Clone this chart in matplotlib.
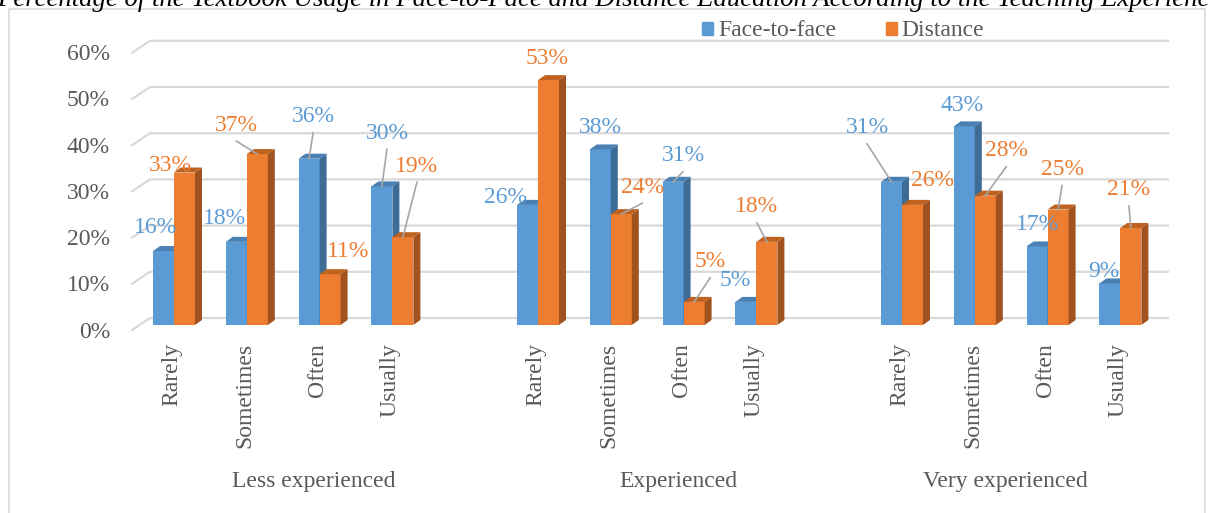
import matplotlib.pyplot as plt
from matplotlib.patches import Rectangle, Polygon, Patch

plt.rcParams['font.family'] = ['Liberation Serif', 'DejaVu Serif']

title = ("Percentage of the Textbook Usage in Face-to-Face and Distance "
         "Education According to the Teaching Experience")
categories = ["Rarely", "Sometimes", "Often", "Usually"]
groups = ["Less experienced", "Experienced", "Very experienced"]
series = ["Face-to-face", "Distance"]
face = [16, 18, 36, 30, 26, 38, 31, 5, 31, 43, 17, 9]
dist = [33, 37, 11, 19, 53, 24, 5, 18, 26, 28, 25, 21]
yticks = [0, 10, 20, 30, 40, 50, 60]

# label placement (pixel offsets from the bar top), and whether a leader line is drawn
face_off = [(-8.5, 24), (-12, 23), (4, 42), (5, 53), (-21.5, 7), (0, 22),
            (10, 26), (-11, 21), (-24.5, 54), (-2, 21), (0, 22), (-6, 12)]
face_lead = [0, 0, 1, 1, 0, 0, 1, 0, 1, 0, 0, 0]
dist_off = [(-14.5, 7.5), (-21, 29), (18, 23), (14, 71), (-1.5, 22), (21, 27),
            (16, 40), (-10, 35), (19.5, 24), (21, 45), (4, 40), (-2, 38)]
dist_lead = [0, 1, 0, 1, 0, 1, 1, 1, 0, 1, 1, 1]

W, H = 1209, 513
SX, SY = 72.8, 4.62     # px per category step / per percent
X0, Y0 = 174, 325       # px of first category / of 0%

def dx(p): return p / SX
def dy(p): return p / SY
def xpx(p): return (p - X0) / SX
def ypx(p): return (Y0 - p) / SY

blue, blue_side, blue_top = '#5B9BD5', '#3D6C97', '#4A80B3'
orng, orng_side, orng_top = '#ED7D31', '#A0531F', '#C0621F'
grey_txt = '#595959'
FS = 17

fig = plt.figure(figsize=(W / 100, H / 100), dpi=100)
ax = fig.add_axes([0, 0, 1, 1])
ax.set_xlim(xpx(0), xpx(W))
ax.set_ylim(ypx(H), ypx(0))
ax.axis('off')

# outer frame
ax.plot([xpx(9), xpx(9), xpx(1205), xpx(1205)],
        [ypx(520), ypx(9), ypx(9), ypx(520)], color='#D9D9D9', lw=1.2)

# gridlines with 3D floor
for v in yticks:
    yf, yb = v - dy(5), v + dy(7)
    ax.plot([xpx(132), xpx(150), xpx(1168)], [yf, yb, yb],
            color='#D9D9D9', lw=1.6, zorder=1)
    ax.text(xpx(110), v - dy(7), f"{v}%", ha='right', va='center',
            fontsize=FS, color=grey_txt)

pos = [g * 5 + i for g in range(3) for i in range(4)]
bw = dx(21)

def bar3d(x0, v, front, side, top):
    ddx, ddy = dx(7), dy(5)
    ax.add_patch(Rectangle((x0, 0), bw, v, fc=front, ec='none', zorder=3))
    ax.add_patch(Polygon([(x0 + bw, 0), (x0 + bw + ddx, ddy),
                          (x0 + bw + ddx, v + ddy), (x0 + bw, v)],
                         fc=side, ec='none', zorder=3))
    ax.add_patch(Polygon([(x0, v), (x0 + ddx, v + ddy),
                          (x0 + bw + ddx, v + ddy), (x0 + bw, v)],
                         fc=top, ec='none', zorder=3))

def label(xc, v, off, lead, color):
    lx, ly = xc + dx(off[0]), v + dy(off[1])
    ax.text(lx, ly, f"{v}%", ha='center', va='center', fontsize=FS,
            color=color, zorder=5)
    if lead:
        ax.plot([lx, xc], [ly - dy(16), v], color='#A6A6A6', lw=1.2, zorder=4)

for i, p in enumerate(pos):
    bar3d(p - bw, face[i], blue, blue_side, blue_top)
    bar3d(p, dist[i], orng, orng_side, orng_top)
    label(p - bw / 2, face[i], face_off[i], face_lead[i], blue)
    label(p + bw / 2, dist[i], dist_off[i], dist_lead[i], orng)
    ax.text(p - dx(2), ypx(343), categories[i % 4], rotation=90,
            ha='center', va='top', fontsize=FS, color=grey_txt)

for g, xg in zip(groups, [314, 678, 1005]):
    ax.text(xpx(xg), ypx(482), g, ha='center', va='center',
            fontsize=FS, color=grey_txt)

handles = [Patch(color=blue, label=series[0]), Patch(color=orng, label=series[1])]
leg = ax.legend(handles=handles, loc='center left', ncol=2, frameon=False,
                bbox_to_anchor=(702 / W, 1 - 31 / H), borderpad=0,
                borderaxespad=0, handlelength=0.48, handleheight=0.48,
                handletextpad=0.2, columnspacing=2.1, prop={'size': FS})
for t in leg.get_texts():
    t.set_color(grey_txt)

fig.text(-0.002, 1 - 6 / H, title, fontsize=19.3, fontstyle='italic',
         va='baseline', ha='left', color='black')

fig.savefig('out.png', dpi=100)
